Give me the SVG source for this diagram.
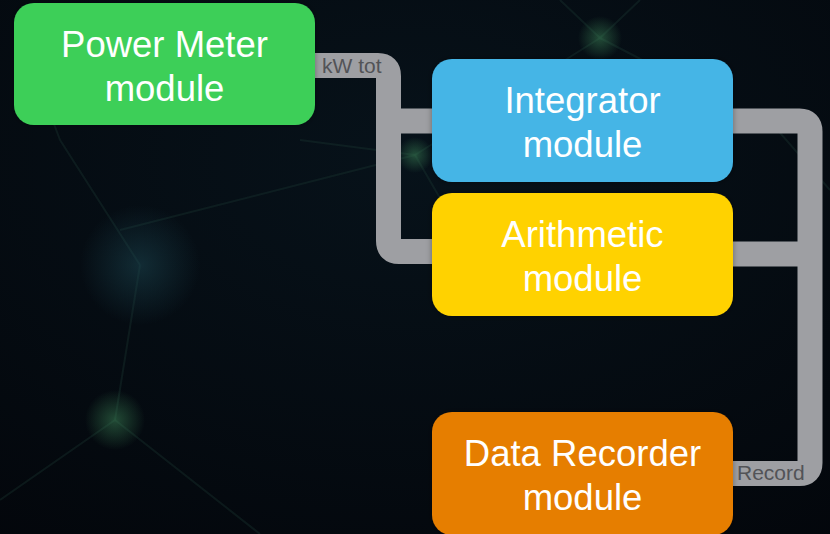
<svg xmlns="http://www.w3.org/2000/svg" width="830" height="534" viewBox="0 0 830 534">
<defs>
<style>
.box{stroke:none}
.lbl{font-family:"Liberation Sans",Arial,sans-serif;font-size:36.5px;fill:#ffffff;text-anchor:middle}
.clbl{font-family:"Liberation Sans",Arial,sans-serif;font-size:21px;fill:#525357}
.wire{fill:none;stroke:#9e9fa3;stroke-width:25;stroke-linejoin:round}
.bgl{stroke:#1c3a34;stroke-width:2;fill:none;opacity:0.35}
</style>
<radialGradient id="bg" cx="0.5" cy="0.3" r="0.9">
<stop offset="0" stop-color="#07121a"/>
<stop offset="1" stop-color="#03060b"/>
</radialGradient>
<radialGradient id="glowG">
<stop offset="0" stop-color="#3f8a5a" stop-opacity="0.5"/>
<stop offset="1" stop-color="#3f8a5a" stop-opacity="0"/>
</radialGradient>
<radialGradient id="glowB">
<stop offset="0" stop-color="#1e4a55" stop-opacity="0.5"/>
<stop offset="1" stop-color="#1e4a55" stop-opacity="0"/>
</radialGradient>
<filter id="sh" x="-10%" y="-10%" width="120%" height="120%">
<feDropShadow dx="0" dy="0" stdDeviation="3" flood-color="#000" flood-opacity="0.35"/>
</filter>
</defs>
<g id="background">
<rect x="0" y="0" width="830" height="534" fill="url(#bg)"/>
<path class="bgl" d="M600 38 L560 0 M600 38 L640 0 M600 38 L415 155 M600 38 L700 90 M415 155 L300 140 M415 155 L470 250 M415 155 L120 230 M140 265 L60 140 M140 265 L115 420 M115 420 L0 500 M115 420 L260 534 M760 110 L830 190 M30 60 L60 140"/>
<circle cx="600" cy="38" r="22" fill="url(#glowG)"/>
<circle cx="415" cy="155" r="18" fill="url(#glowG)"/>
<circle cx="140" cy="265" r="60" fill="url(#glowB)"/>
<circle cx="115" cy="420" r="30" fill="url(#glowG)"/>
</g>
<g id="connectors">
<path class="wire" d="M305 65.5 H378 Q388.5 65.5 388.5 76 V241 Q388.5 251.5 399 251.5 H440"/>
<path class="wire" d="M388.5 121 H440"/>
<path class="wire" d="M725 121 H799.5 Q810 121 810 131.5 V463 Q810 473.5 799.5 473.5 H725"/>
<path class="wire" d="M725 254 H810"/>
<text class="clbl" x="322" y="73">kW tot</text>
<text class="clbl" x="737" y="480">Record</text>
</g>
<g id="power-meter">
<rect class="box" x="14" y="3" width="301" height="122" rx="20" fill="#3ecf59" filter="url(#sh)"/>
<text class="lbl" x="164.5" y="57">Power Meter</text>
<text class="lbl" x="164.5" y="101">module</text>
</g>
<g id="integrator">
<rect class="box" x="432" y="59" width="301" height="123" rx="20" fill="#45b5e6" filter="url(#sh)"/>
<text class="lbl" x="582.5" y="113">Integrator</text>
<text class="lbl" x="582.5" y="157">module</text>
</g>
<g id="arithmetic">
<rect class="box" x="432" y="193" width="301" height="123" rx="20" fill="#ffd200" filter="url(#sh)"/>
<text class="lbl" x="582.5" y="247">Arithmetic</text>
<text class="lbl" x="582.5" y="291">module</text>
</g>
<g id="data-recorder">
<rect class="box" x="432" y="412" width="301" height="123" rx="20" fill="#e67e00" filter="url(#sh)"/>
<text class="lbl" x="582.5" y="466">Data Recorder</text>
<text class="lbl" x="582.5" y="510">module</text>
</g>
</svg>
